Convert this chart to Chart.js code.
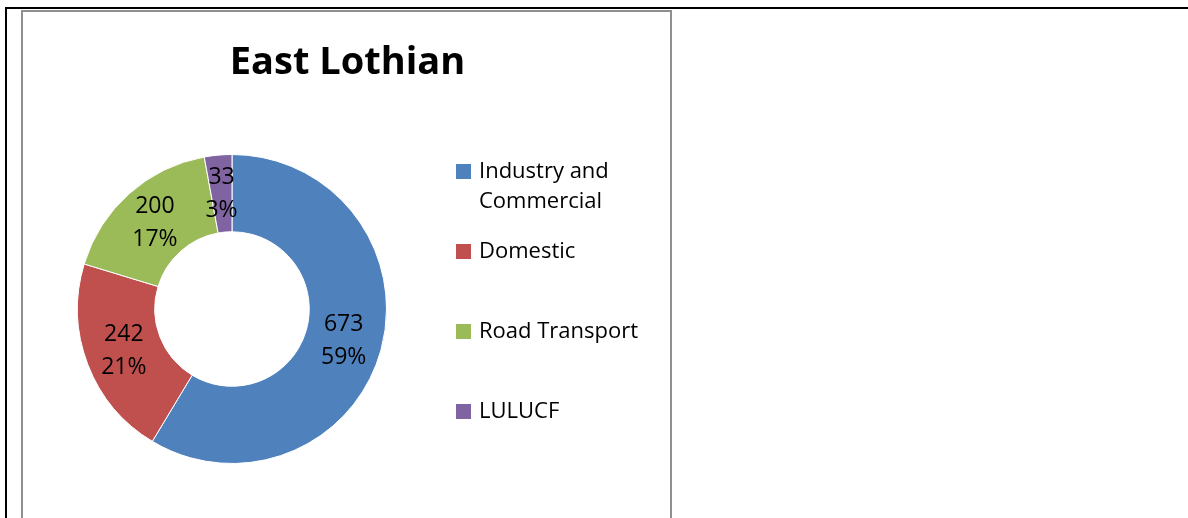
<!DOCTYPE html>
<html>
<head>
<meta charset="utf-8">
<script src="https://cdn.jsdelivr.net/npm/chart.js@4.4.1/dist/chart.umd.min.js"></script>
<style>
  body { margin: 0; background: #fff; width: 1188px; height: 518px; overflow: hidden; position: relative; }
  #topLine { position: absolute; left: 5px; top: 7px; width: 1183px; height: 2px; background: #000; }
  #leftLine { position: absolute; left: 5px; top: 7px; width: 2px; height: 511px; background: #000; }
  #frame { position: absolute; left: 21px; top: 10px; width: 647px; height: 520px; border: 2px solid #8f8f8f; border-bottom: none; }
  #chart { display: block; }
</style>
</head>
<body>
<div id="topLine"></div>
<div id="leftLine"></div>
<div id="frame"><canvas id="chart" width="647" height="506"></canvas></div>
<script>
const chartTitle = 'East Lothian';
const categories = ['Industry and Commercial', 'Domestic', 'Road Transport', 'LULUCF'];
const emissions = [673, 242, 200, 33];
const sliceColors = ['#4F81BD', '#C0504D', '#9BBB59', '#8064A2'];

const FONT = '"Open Sans", "Liberation Sans", sans-serif';

// value + percentage written in the middle of each ring segment
const ringLabels = {
  id: 'ringLabels',
  afterDatasetsDraw(chart) {
    const { ctx } = chart;
    const values = chart.data.datasets[0].data;
    const total = values.reduce((a, b) => a + b, 0);
    ctx.save();
    ctx.font = '23px ' + FONT;
    ctx.fillStyle = '#000';
    ctx.textAlign = 'center';
    ctx.textBaseline = 'middle';
    chart.getDatasetMeta(0).data.forEach((arc, i) => {
      const p = arc.tooltipPosition();
      ctx.fillText(String(values[i]), p.x, p.y - 16);
      ctx.fillText(Math.round(values[i] / total * 100) + '%', p.x, p.y + 17);
    });
    ctx.restore();
  }
};

// title and Excel-style legend on the right
const titleAndLegend = {
  id: 'titleAndLegend',
  afterDraw(chart) {
    const { ctx, chartArea } = chart;
    ctx.save();
    ctx.fillStyle = '#000';
    ctx.textBaseline = 'middle';
    ctx.textAlign = 'center';
    ctx.font = 'bold 38px ' + FONT;
    ctx.fillText(chartTitle, chart.width / 2 + 1, 51);

    ctx.textAlign = 'left';
    ctx.font = '22px ' + FONT;
    const boxX = chartArea.right + 69;
    const textX = boxX + 23;
    const maxW = 185;
    chart.data.labels.forEach((label, i) => {
      const y0 = 160 + i * 80;
      ctx.fillStyle = chart.data.datasets[0].backgroundColor[i];
      ctx.fillRect(boxX, y0 - 8, 15, 15);
      ctx.fillStyle = '#000';
      // wrap long labels
      const words = label.split(' ');
      const lines = [];
      let line = '';
      words.forEach(w => {
        const test = line ? line + ' ' + w : w;
        if (ctx.measureText(test).width > maxW && line) {
          lines.push(line);
          line = w;
        } else {
          line = test;
        }
      });
      lines.push(line);
      lines.forEach((t, k) => ctx.fillText(t, textX, y0 + k * 30));
    });
    ctx.restore();
  }
};

new Chart(document.getElementById('chart'), {
  type: 'doughnut',
  data: {
    labels: categories,
    datasets: [{
      data: emissions,
      backgroundColor: sliceColors,
      borderColor: '#fff',
      borderWidth: 1
    }]
  },
  options: {
    responsive: false,
    animation: false,
    cutout: '50%',
    layout: { padding: { left: 54, top: 142, right: 283, bottom: 54 } },
    plugins: {
      legend: { display: false },
      title: { display: false },
      tooltip: { enabled: false }
    }
  },
  plugins: [ringLabels, titleAndLegend]
});
</script>
</body>
</html>
